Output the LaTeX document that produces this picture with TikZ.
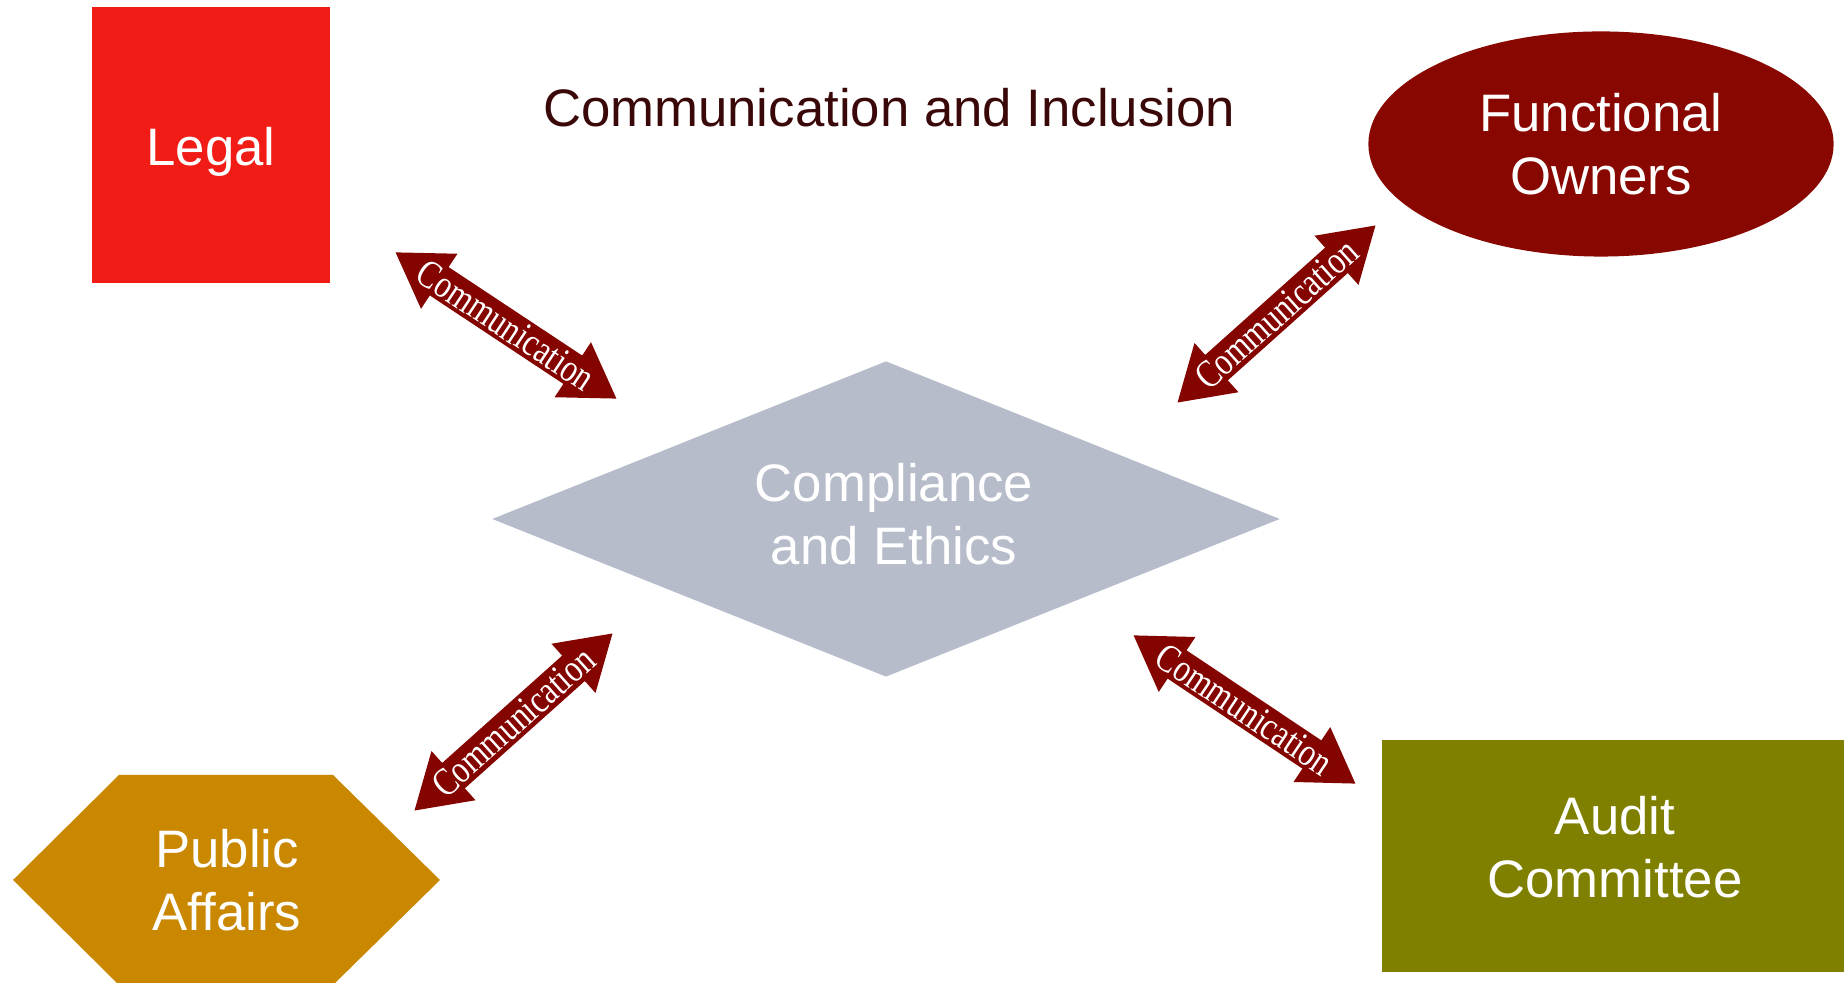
\documentclass[tikz,border=0pt]{standalone}
\usepackage{fontspec}
\usepackage{graphicx}
\setmainfont{Liberation Sans}
\newfontfamily\commfont{Liberation Serif}
\usetikzlibrary{shapes.geometric,arrows.meta}
\definecolor{legalred}{HTML}{F21C17}
\definecolor{ownerred}{HTML}{880700}
\definecolor{ethicsgrey}{HTML}{B7BCCA}
\definecolor{affairsgold}{HTML}{CA8700}
\definecolor{auditolive}{HTML}{808000}
\definecolor{arrowred}{HTML}{840400}
\definecolor{titlebrown}{HTML}{3A0808}
\tikzset{
  shapebox/.style={inner sep=0pt, outer sep=0pt},
  boxtext/.style={text=white, inner sep=0pt, align=center,
    font=\fontsize{15}{18}\selectfont},
  commarrow/.style={draw=arrowred, line width=0.34cm,
    {Triangle[length=0.53cm,width=0.62cm]}-{Triangle[length=0.53cm,width=0.62cm]}},
  commlabel/.style={text=white, sloped, inner sep=0pt,
    font=\commfont\fontsize{9}{10}\selectfont}
}
\newcommand{\commtext}{\scalebox{1}[1.25]{Communication}}
\begin{document}
\begin{tikzpicture}[x=0.01cm,y=-0.01cm]
  \useasboundingbox (0,0) rectangle (1847,983);

  \node[anchor=base, text=titlebrown, font=\fontsize{15}{18}\selectfont] (title) at (889,127) {Communication and Inclusion};

  \fill[affairsgold] (13,880) -- (119,775) -- (333,775) -- (440,880) -- (333,985) -- (119,985) -- cycle;

  \begin{scope}[every node/.style={shapebox}]
    \node[rectangle, fill=legalred, minimum width=2.38cm, minimum height=2.75cm] (legal) at (211,145) {};
    \node[ellipse, fill=ownerred, minimum width=4.65cm, minimum height=2.25cm] (owners) at (1601,144) {};
    \node[diamond, aspect=2.5, fill=ethicsgrey, minimum width=7.87cm, minimum height=3.15cm] (ethics) at (886,519) {};
    \node[rectangle, fill=auditolive, minimum width=4.62cm, minimum height=2.31cm] (audit) at (1613,856) {};
  \end{scope}

  \begin{scope}[every node/.style={boxtext}]
    \node (legal-text) at (211,152) {Legal};
    \node (owners-text) at (1601,144) {Functional\\Owners};
    \node (ethics-text) at (894,514) {Compliance\\and Ethics};
    \node (affairs-text) at (227,880) {Public\\Affairs};
    \node (audit-text) at (1615,847) {Audit\\Committee};
  \end{scope}

  \coordinate (legal-a) at (395,252);
  \coordinate (legal-b) at (617,399);
  \coordinate (owners-a) at (1177,403);
  \coordinate (owners-b) at (1376,225);
  \coordinate (affairs-a) at (414,811);
  \coordinate (affairs-b) at (613,633);
  \coordinate (audit-a) at (1133,635);
  \coordinate (audit-b) at (1356,784);

  \draw[commarrow] (legal-a) -- node[commlabel] {\commtext} (legal-b);
  \draw[commarrow] (owners-a) -- node[commlabel] {\commtext} (owners-b);
  \draw[commarrow] (affairs-a) -- node[commlabel] {\commtext} (affairs-b);
  \draw[commarrow] (audit-a) -- node[commlabel] {\commtext} (audit-b);

\end{tikzpicture}
\end{document}
